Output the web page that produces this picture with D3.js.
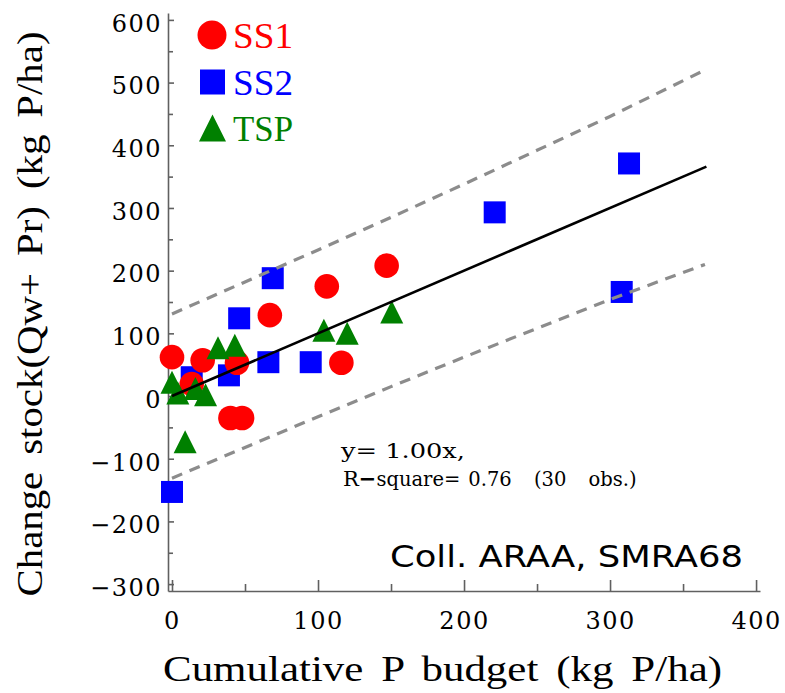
<!DOCTYPE html>
<html>
<head>
<meta charset="utf-8">
<script src="https://cdn.jsdelivr.net/npm/d3@7"></script>
<style>
  html, body { margin: 0; padding: 0; background: #fff; }
  svg { display: block; }
</style>
</head>
<body>
<svg id="chart" width="785" height="693"></svg>
<script>
// ---------- data ----------
const seriesNames = ["SS1", "SS2", "TSP"];
const ss1X = [0, 13.5, 21, 44.5, 67, 106, 116, 147, 40, 48];
const ss1Y = [62, 19, 57, 53, 129, 175, 53, 208, -35, -35];
const ss2X = [0, 13.5, 39, 46, 69, 66, 95, 221, 313, 308];
const ss2Y = [-153, 30, 33, 124, 188, 54, 54, 293, 371, 166];
const tspX = [0, 4, 16, 23, 31.5, 43, 9, 104, 120, 150.5];
const tspY = [22, 5, 12, 2, 77, 81, -73, 105, 100, 134];
const fitX = [0, 366];
const fitY = [0, 366];
const bandX = [0, 50, 100, 150, 200, 250, 300, 365];
const bandUpper = [131, 182, 233, 285, 338, 392, 446, 520];
const bandLower = [-131, -82, -33, 15, 62, 108, 154, 210];
const xMajorTicks = [0, 100, 200, 300, 400];
const xMinorTicks = [50, 150, 250, 350];
const yMajorTicks = [-300, -200, -100, 0, 100, 200, 300, 400, 500, 600];
const yMinorTicks = [-250, -150, -50, 50, 150, 250, 350, 450, 550];
const xTitle = "Cumulative P budget (kg P/ha)";
const yTitle = "Change stock(Qw+ Pr) (kg P/ha)";

const svg = d3.select("#chart");
const serif = "'DejaVu Serif', serif";
const titleFont = "'Liberation Serif', 'Times New Roman', serif";

const x = d3.scaleLinear().domain([-2.74, 402.7]).range([168, 760]);
const y = d3.scaleLinear().domain([-311, 611]).range([591, 13]);

const axisColor = "#606060";

// x axis
const gx = svg.append("g").attr("transform", `translate(0,${y.range()[0]})`);
gx.call(d3.axisBottom(x).tickValues(xMajorTicks).tickSizeInner(-11).tickSizeOuter(0).tickPadding(21).tickFormat(d3.format("d")));
const gxm = svg.append("g").attr("transform", `translate(0,${y.range()[0]})`);
gxm.call(d3.axisBottom(x).tickValues(xMinorTicks).tickSizeInner(-7).tickSizeOuter(0).tickFormat(""));
gxm.select(".domain").remove();

// y axis
const gy = svg.append("g").attr("transform", `translate(${x.range()[0]},0)`);
gy.call(d3.axisLeft(y).tickValues(yMajorTicks).tickSizeInner(-6).tickSizeOuter(0).tickPadding(6).tickFormat(d3.format("d")));
const gym = svg.append("g").attr("transform", `translate(${x.range()[0]},0)`);
gym.call(d3.axisLeft(y).tickValues(yMinorTicks).tickSizeInner(-5).tickSizeOuter(0).tickFormat(""));
gym.select(".domain").remove();

svg.selectAll(".domain, .tick line").attr("stroke", axisColor).attr("stroke-width", 1.6);
svg.selectAll(".tick text")
  .attr("font-family", serif).attr("font-size", 24).attr("fill", "#000")
  .attr("letter-spacing", 1.5);
gy.selectAll(".tick text").attr("dy", "0.47em");

// markers
const ptsSS1 = ss1X.map((v, i) => [v, ss1Y[i]]);
const ptsSS2 = ss2X.map((v, i) => [v, ss2Y[i]]);
const ptsTSP = tspX.map((v, i) => [v, tspY[i]]);

const tri = (cx, cy, s) => `M${cx},${cy - s / 2}L${cx + s / 2},${cy + s / 2}L${cx - s / 2},${cy + s / 2}Z`;

svg.append("g").selectAll("rect").data(ptsSS2).join("rect")
  .attr("x", d => x(d[0]) - 11).attr("y", d => y(d[1]) - 11)
  .attr("width", 22).attr("height", 22).attr("fill", "#0000ff");
svg.append("g").selectAll("circle").data(ptsSS1).join("circle")
  .attr("cx", d => x(d[0])).attr("cy", d => y(d[1])).attr("r", 12.3).attr("fill", "#ff0000");
svg.append("g").selectAll("path").data(ptsTSP).join("path")
  .attr("d", d => tri(x(d[0]), y(d[1]), 23)).attr("fill", "#008000");

// lines
const line = d3.line().x(d => x(d[0])).y(d => y(d[1]));
svg.append("path").datum(bandX.map((v, i) => [v, bandUpper[i]]))
  .attr("d", line).attr("fill", "none").attr("stroke", "#8c8c8c")
  .attr("stroke-width", 3.2).attr("stroke-dasharray", "11,8");
svg.append("path").datum(bandX.map((v, i) => [v, bandLower[i]]))
  .attr("d", line).attr("fill", "none").attr("stroke", "#8c8c8c")
  .attr("stroke-width", 3.2).attr("stroke-dasharray", "11,8");
svg.append("path").datum(fitX.map((v, i) => [v, fitY[i]]))
  .attr("d", line).attr("fill", "none").attr("stroke", "#000")
  .attr("stroke-width", 2.6);

// legend
const legColors = ["#ff0000", "#0000ff", "#008000"];
const legY = [35, 82, 128];
const legBase = [48, 95, 141];
const lg = svg.append("g");
lg.append("circle").attr("cx", 212).attr("cy", legY[0]).attr("r", 14.5).attr("fill", legColors[0]);
lg.append("rect").attr("x", 200).attr("y", legY[1] - 12.5).attr("width", 25).attr("height", 25).attr("fill", legColors[1]);
lg.append("path").attr("d", tri(212.5, legY[2], 27)).attr("fill", legColors[2]);
seriesNames.forEach((n, i) => {
  lg.append("text").attr("x", 233).attr("y", legBase[i]).text(n)
    .attr("font-family", titleFont).attr("font-size", 36).attr("fill", legColors[i])
    .attr("textLength", 60).attr("lengthAdjust", "spacingAndGlyphs");
});

// axis titles
svg.append("text").attr("x", 442.5).attr("y", 681).attr("text-anchor", "middle")
  .attr("font-family", titleFont).attr("font-size", 36).attr("fill", "#000")
  .attr("word-spacing", 6)
  .attr("textLength", 559).attr("lengthAdjust", "spacingAndGlyphs").text(xTitle);
svg.append("text").attr("transform", "translate(42,314) rotate(-90)").attr("text-anchor", "middle")
  .attr("font-family", titleFont).attr("font-size", 36).attr("fill", "#000")
  .attr("word-spacing", 6)
  .attr("textLength", 565).attr("lengthAdjust", "spacingAndGlyphs").text(yTitle);

// annotations
svg.append("text").attr("x", 341).attr("y", 458)
  .attr("font-family", serif).attr("font-size", 21).attr("fill", "#000")
  .attr("textLength", 124).attr("lengthAdjust", "spacingAndGlyphs").text("y= 1.00x,");
const t2 = svg.append("text").attr("x", 343).attr("y", 486)
  .attr("font-family", serif).attr("fill", "#000");
t2.append("tspan").attr("font-size", 21).text("R");
t2.append("tspan").attr("font-size", 21).attr("font-weight", "bold").text("\u2212");
t2.append("tspan").attr("font-size", 19.5).text("square=");
t2.append("tspan").attr("font-size", 19.5).attr("dx", 8).attr("word-spacing", 16).text("0.76 (30 obs.)");

svg.append("text").attr("x", 390).attr("y", 567)
  .attr("font-family", "'DejaVu Sans', sans-serif").attr("font-size", 31).attr("fill", "#000")
  .attr("textLength", 353).attr("lengthAdjust", "spacingAndGlyphs").text("Coll. ARAA, SMRA68");
</script>
</body>
</html>
